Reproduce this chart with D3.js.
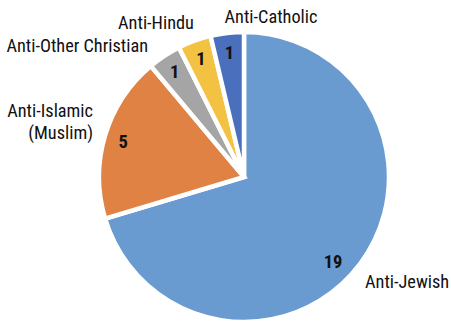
<!DOCTYPE html>
<html>
<head>
<meta charset="utf-8">
<script src="https://cdn.jsdelivr.net/npm/d3@7"></script>
<style>
  body { margin: 0; background: #fff; }
  svg text { font-family: "Liberation Sans Narrow", "Arial Narrow", "Roboto Condensed", sans-serif; }
</style>
</head>
<body>
<svg width="451" height="321"></svg>
<script>
"use strict";

// data, clockwise from 12 o'clock
const categories = ["Anti-Jewish", "Anti-Islamic (Muslim)", "Anti-Other Christian", "Anti-Hindu", "Anti-Catholic"];
const counts = [19, 5, 1, 1, 1];
const colors = ["#6a9bd0", "#df8244", "#a5a5a5", "#f4c242", "#4a70bd"];

const svg = d3.select("svg"),
    cx = 244,
    cy = 177,
    radius = 145;

const slices = categories.map((c, i) => ({name: c, value: counts[i], color: colors[i]}));

const pie = d3.pie()
    .value(d => d.value)
    .sort(null);

const arc = d3.arc()
    .innerRadius(0)
    .outerRadius(radius);

const arcs = pie(slices);

const g = svg.append("g")
    .attr("transform", "translate(" + cx + "," + cy + ")");

g.selectAll("path")
    .data(arcs)
    .enter().append("path")
    .attr("d", arc)
    .attr("fill", d => d.data.color)
    .attr("stroke", "#fff")
    .attr("stroke-width", 4.5)
    .attr("stroke-linejoin", "miter");

// value labels, near the outer end of each slice
const labelArc = d3.arc().innerRadius(radius - 19).outerRadius(radius - 19);
g.selectAll("text.value")
    .data(arcs)
    .enter().append("text")
    .attr("class", "value")
    .attr("transform", function (d) {
        let p = labelArc.centroid(d);
        // big slice label sits a bit further round, like excel does it
        if (d.index === 0) { p = [p[0] - 12, p[1] + 9]; }
        return "translate(" + p[0] + "," + p[1] + ")";
    })
    .attr("text-anchor", "middle")
    .attr("dy", "0.36em")
    .attr("font-size", 18.5)
    .attr("font-weight", "bold")
    .attr("fill", "#111")
    .text(d => d.data.value);

// category labels outside the pie
const outside = {
    "Anti-Jewish": {x: 365, y: 288, anchor: "start", lines: ["Anti-Jewish"]},
    "Anti-Islamic (Muslim)": {x: 93, y: 117, anchor: "end", lines: ["Anti-Islamic", "(Muslim)"]},
    "Anti-Other Christian": {x: 148, y: 52, anchor: "end", lines: ["Anti-Other Christian"]},
    "Anti-Hindu": {x: 156, y: 29, anchor: "middle", lines: ["Anti-Hindu"]},
    "Anti-Catholic": {x: 271, y: 23, anchor: "middle", lines: ["Anti-Catholic"]}
};

svg.selectAll("text.cat")
    .data(slices)
    .enter().append("text")
    .attr("class", "cat")
    .attr("font-size", 18.3)
    .attr("fill", "#111")
    .attr("text-anchor", d => outside[d.name].anchor)
    .each(function (d) {
        const o = outside[d.name];
        d3.select(this).selectAll("tspan")
            .data(o.lines)
            .enter().append("tspan")
            .attr("x", o.x)
            .attr("y", (l, i) => o.y + i * 21.5)
            .text(l => l);
    });
</script>
</body>
</html>
